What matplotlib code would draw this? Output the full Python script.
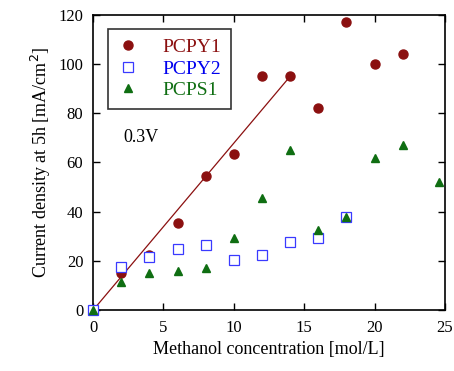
import matplotlib
matplotlib.use("Agg")
import matplotlib.pyplot as plt

# methanol concentration [mol/L] and current density at 5h [mA/cm2]
x_pcpy1 = [0, 2, 4, 6, 8, 10, 12, 14, 16, 18, 20, 22]
y_pcpy1 = [0, 15, 22.5, 35.5, 54.5, 63.5, 95, 95, 82, 117, 100, 104]

x_pcpy2 = [0, 2, 4, 6, 8, 10, 12, 14, 16, 18]
y_pcpy2 = [0, 17.5, 21.5, 25, 26.5, 20.5, 22.5, 27.5, 29.5, 38]

x_pcps1 = [0, 2, 4, 6, 8, 10, 12, 14, 16, 18, 20, 22, 24.6]
y_pcps1 = [0, 11.5, 15, 16, 17, 29.5, 45.5, 65, 32.5, 38, 62, 67, 52]

# linear fit line for PCPY1 (0-14 mol/L)
x_fit = [0, 14]
y_fit = [0, 95]

RED = "#8b1010"
BLUE = "#3a3aff"
GREEN = "#0f6e12"

plt.rcParams["font.family"] = ["Liberation Serif", "DejaVu Serif"]

fig = plt.figure(figsize=(4.54, 3.71), dpi=100)
ax = fig.add_axes([0.205, 0.164, 0.775, 0.796])

ax.plot(x_fit, y_fit, color=RED, lw=0.9)
h1, = ax.plot(x_pcpy1, y_pcpy1, "o", color=RED, ms=6.5, ls="none",
              label="PCPY1", clip_on=False, zorder=3)
h2, = ax.plot(x_pcpy2, y_pcpy2, "s", mfc="white", mec=BLUE, mew=0.9, ms=7,
              ls="none", label="PCPY2", clip_on=False, zorder=3)
h3, = ax.plot(x_pcps1, y_pcps1, "^", color=GREEN, ms=6, ls="none",
              label="PCPS1", clip_on=False, zorder=4)

ax.set_xlim(0, 25)
ax.set_ylim(0, 120)
ax.set_xticks(range(0, 26, 5))
ax.set_yticks(range(0, 121, 20))
ax.tick_params(direction="in", length=5, width=1, top=True, right=True,
               labelsize=12, pad=7)
for s in ax.spines.values():
    s.set_linewidth(1.2)

ax.set_xlabel("Methanol concentration [mol/L]", fontsize=13)
ax.set_ylabel("Current density at 5h [mA/cm$^2$]", fontsize=13)

ax.text(3.4, 70, "0.3V", fontsize=13, ha="center", va="center")

leg = ax.legend(handles=[h1, h2, h3], loc="upper left",
                bbox_to_anchor=(0.043, 0.953), borderaxespad=0,
                fontsize=14, frameon=True,
                fancybox=False, edgecolor="black", handlelength=1.0,
                handletextpad=1.3, borderpad=0.5, labelspacing=0.2)
leg.get_frame().set_linewidth(1.2)
for t, c in zip(leg.get_texts(), [RED, "#0000ee", GREEN]):
    t.set_color(c)

fig.savefig("out.png", dpi=100)
